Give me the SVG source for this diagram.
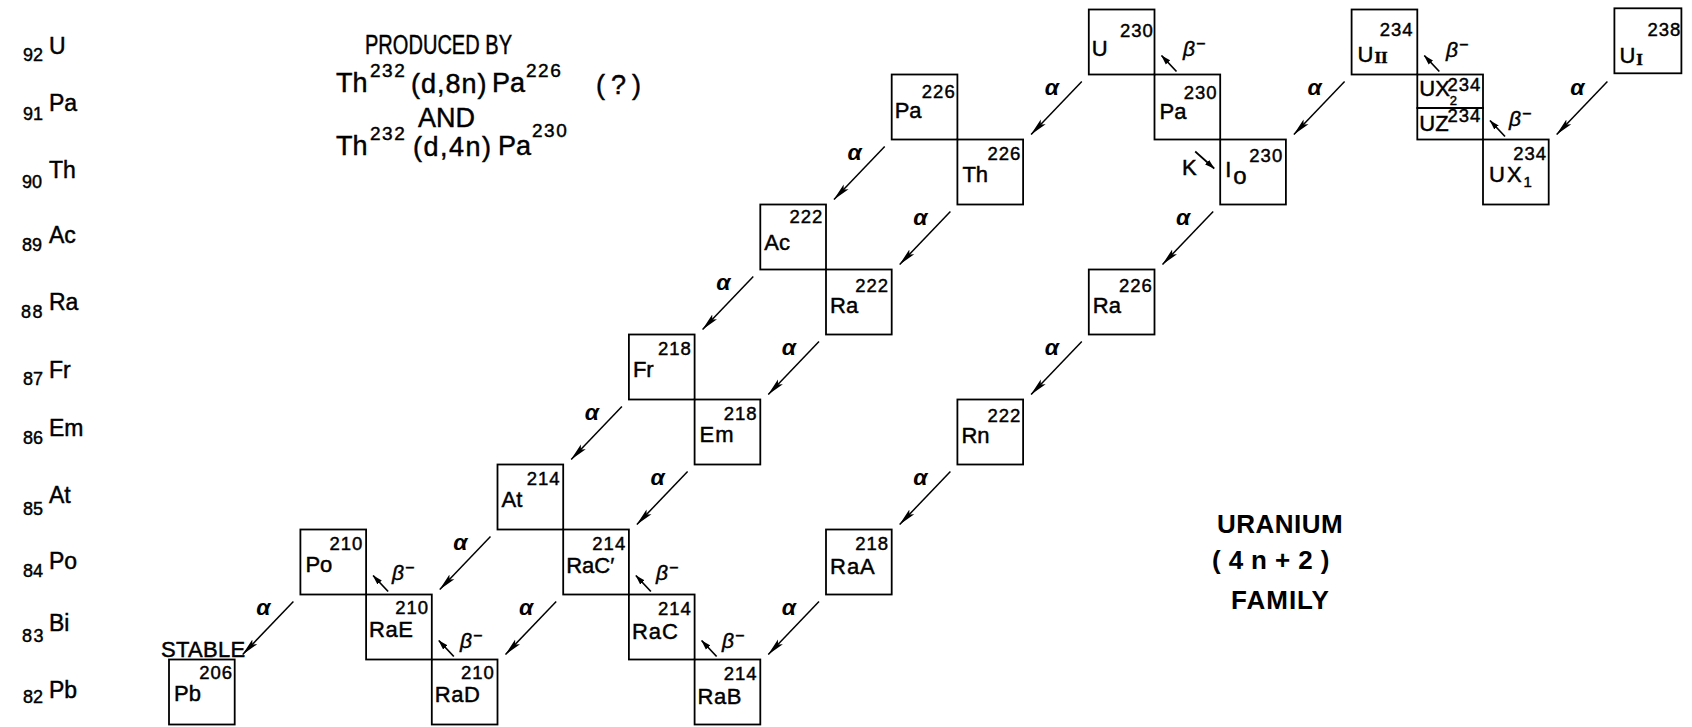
<svg xmlns="http://www.w3.org/2000/svg" width="1692" height="727" viewBox="0 0 1692 727">
<style>
text { font-family: "Liberation Sans", Arial, sans-serif; fill: #000; stroke: #000; stroke-width: 0.45; }
.box { fill: none; stroke: #000; stroke-width: 1.8; }
.sym { font-size: 22px; }
.mass { font-size: 18.5px; text-anchor: end; letter-spacing: 1px; }
.zl { font-size: 18px; }
.zs { font-size: 23px; }
.alpha { font-size: 23px; font-style: italic; font-weight: bold; text-anchor: middle; stroke-width: 0; }
.beta { font-size: 21px; font-style: italic; }
.la { stroke: #000; stroke-width: 1.5; fill: none; marker-end: url(#ah); }
.lb { stroke: #000; stroke-width: 1.7; fill: none; marker-end: url(#bh); }
.title { font-size: 27px; }
.tsup { font-size: 19px; letter-spacing: 1.5px; }
.fam { font-size: 26px; font-weight: bold; stroke-width: 0; }
.rom { font-family: "Liberation Serif", serif; font-weight: bold; }
</style>
<defs>
<marker id="ah" viewBox="0 0 18 8" refX="17.5" refY="4" markerWidth="18" markerHeight="8" markerUnits="userSpaceOnUse" orient="auto"><path d="M0,0.6 L18,4 L0,7.4 L3.5,4 Z" fill="#000"/></marker>
<marker id="bh" viewBox="0 0 10 7" refX="9.5" refY="3.5" markerWidth="10" markerHeight="7" markerUnits="userSpaceOnUse" orient="auto"><path d="M0,0.5 L10,3.5 L0,6.5 Z" fill="#000"/></marker>
</defs>
<rect width="1692" height="727" fill="#fff"/>

<g id="z-labels">
<text class="zl" x="23" y="61">92</text><text class="zs" x="49" y="54">U</text>
<text class="zl" x="23" y="120">91</text><text class="zs" x="49" y="111">Pa</text>
<text class="zl" x="22" y="188">90</text><text class="zs" x="49" y="178">Th</text>
<text class="zl" x="22" y="251">89</text><text class="zs" x="49" y="243">Ac</text>
<text class="zl" x="21" y="318" letter-spacing="1.5">88</text><text class="zs" x="49" y="310">Ra</text>
<text class="zl" x="23" y="385">87</text><text class="zs" x="49" y="378">Fr</text>
<text class="zl" x="23" y="444">86</text><text class="zs" x="49" y="436">Em</text>
<text class="zl" x="23" y="515">85</text><text class="zs" x="49" y="503">At</text>
<text class="zl" x="23" y="577">84</text><text class="zs" x="49" y="569">Po</text>
<text class="zl" x="22" y="642" letter-spacing="1.5">83</text><text class="zs" x="49" y="631">Bi</text>
<text class="zl" x="23" y="703">82</text><text class="zs" x="49" y="698">Pb</text>
</g>

<g id="note">
<text class="title" x="365" y="54" font-size="26" textLength="147" lengthAdjust="spacingAndGlyphs">PRODUCED BY</text>
<text class="title" x="336" y="92">Th</text>
<text class="tsup" x="370" y="77">232</text>
<text class="title" x="411" y="93" letter-spacing="1">(d,8n)</text>
<text class="title" x="492" y="92">Pa</text>
<text class="tsup" x="526" y="77">226</text>
<text class="title" x="596" y="94" letter-spacing="6">(?)</text>
<text class="title" x="418" y="127" font-size="21">AND</text>
<text class="title" x="336" y="155">Th</text>
<text class="tsup" x="370" y="140">232</text>
<text class="title" x="413" y="156" letter-spacing="1.5">(d,4n)</text>
<text class="title" x="498" y="155">Pa</text>
<text class="tsup" x="532" y="137">230</text>
</g>

<g id="family">
<text class="fam" x="1217" y="533" letter-spacing="0.5">URANIUM</text>
<text class="fam" x="1212" y="569" font-size="24" letter-spacing="8">(4n+2)</text>
<text class="fam" x="1231" y="609" letter-spacing="1">FAMILY</text>
</g>

<g id="pb206" transform="translate(169,659.5)"><rect class="box" width="65.7" height="65"/><text class="mass" x="64" y="19.5">206</text><text class="sym" x="5" y="41">Pb</text><text class="sym" x="-8" y="-3" font-size="20" letter-spacing="0.3">STABLE</text></g>
<g id="po210" transform="translate(300.4,529.5)"><rect class="box" width="65.7" height="65"/><text class="mass" x="63" y="20">210</text><text class="sym" x="5" y="42">Po</text></g>
<g id="rae210" transform="translate(366.1,594.5)"><rect class="box" width="65.7" height="65"/><text class="mass" x="63" y="19.5">210</text><text class="sym" x="3" y="42" letter-spacing="0.5">RaE</text></g>
<g id="rad210" transform="translate(431.8,659.5)"><rect class="box" width="65.7" height="65"/><text class="mass" x="63" y="19.5">210</text><text class="sym" x="3" y="42" letter-spacing="0.5">RaD</text></g>
<g id="at214" transform="translate(497.5,464.5)"><rect class="box" width="65.7" height="65"/><text class="mass" x="63" y="20">214</text><text class="sym" x="4" y="42">At</text></g>
<g id="racp214" transform="translate(563.2,529.5)"><rect class="box" width="65.7" height="65"/><text class="mass" x="63" y="20">214</text><text class="sym" x="3" y="43">RaC′</text></g>
<g id="rac214" transform="translate(628.9,594.5)"><rect class="box" width="65.7" height="65"/><text class="mass" x="63" y="20">214</text><text class="sym" x="3" y="44" letter-spacing="1">RaC</text></g>
<g id="fr218" transform="translate(628.9,334.5)"><rect class="box" width="65.7" height="65"/><text class="mass" x="63" y="20">218</text><text class="sym" x="4" y="42">Fr</text></g>
<g id="em218" transform="translate(694.6,399.5)"><rect class="box" width="65.7" height="65"/><text class="mass" x="63" y="20">218</text><text class="sym" x="5" y="42" letter-spacing="1">Em</text></g>
<g id="rab214" transform="translate(694.6,659.5)"><rect class="box" width="65.7" height="65"/><text class="mass" x="63" y="20">214</text><text class="sym" x="3" y="44" letter-spacing="0.5">RaB</text></g>
<g id="ac222" transform="translate(760.3,204.5)"><rect class="box" width="65.7" height="65"/><text class="mass" x="63" y="18">222</text><text class="sym" x="4" y="45">Ac</text></g>
<g id="ra222" transform="translate(826,269.5)"><rect class="box" width="65.7" height="65"/><text class="mass" x="63" y="22" letter-spacing="1.5">222</text><text class="sym" x="4" y="43">Ra</text></g>
<g id="raa218" transform="translate(826,529.5)"><rect class="box" width="65.7" height="65"/><text class="mass" x="63" y="20">218</text><text class="sym" x="4" y="44" letter-spacing="1">RaA</text></g>
<g id="pa226" transform="translate(891.7,74.5)"><rect class="box" width="65.7" height="65"/><text class="mass" x="64" y="23" letter-spacing="2">226</text><text class="sym" x="3" y="43">Pa</text></g>
<g id="th226" transform="translate(957.4,139.5)"><rect class="box" width="65.7" height="65"/><text class="mass" x="64" y="20" letter-spacing="2">226</text><text class="sym" x="5" y="42">Th</text></g>
<g id="rn222" transform="translate(957.4,399.5)"><rect class="box" width="65.7" height="65"/><text class="mass" x="64" y="22" letter-spacing="1.5">222</text><text class="sym" x="4" y="43">Rn</text></g>
<g id="ra226" transform="translate(1088.8,269.5)"><rect class="box" width="65.7" height="65"/><text class="mass" x="64" y="22" letter-spacing="1.5">226</text><text class="sym" x="4" y="43">Ra</text></g>
<g id="u230" transform="translate(1088.8,9.5)"><rect class="box" width="65.7" height="65"/><text class="mass" x="65" y="27" letter-spacing="3">230</text><text class="sym" x="3" y="46">U</text></g>
<g id="pa230" transform="translate(1154.5,74.5)"><rect class="box" width="65.7" height="65"/><text class="mass" x="63" y="24" letter-spacing="1">230</text><text class="sym" x="5" y="44">Pa</text></g>
<g id="io230" transform="translate(1220.2,139.5)"><rect class="box" width="65.7" height="65"/><text class="mass" x="63" y="22" letter-spacing="0.5">230</text><text class="sym" x="5" y="37">I<tspan dx="2" dy="7" font-size="24">o</tspan></text></g>
<g id="u234" transform="translate(1351.6,9.5)"><rect class="box" width="65.7" height="65"/><text class="mass" x="62" y="26" letter-spacing="1.5">234</text><text class="sym" x="6" y="52" font-size="24">U<tspan class="rom" font-size="17" dx="1" dy="1">II</tspan></text></g>
<g id="pa234" transform="translate(1417.3,74.5)"><rect class="box" width="65.7" height="33.5"/><rect class="box" y="33.5" width="65.7" height="31.5"/><text class="mass" x="64" y="16" font-size="15">234</text><text class="sym" x="2" y="21" font-size="18">UX<tspan font-size="13" dy="9">2</tspan></text><text class="mass" x="64" y="47" font-size="15">234</text><text class="sym" x="2" y="56" font-size="18">UZ</text></g>
<g id="th234" transform="translate(1483,139.5)"><rect class="box" width="65.7" height="65"/><text class="mass" x="64" y="20" letter-spacing="1.5">234</text><text class="sym" x="6" y="42" letter-spacing="2">UX<tspan font-size="15" dy="5">1</tspan></text></g>
<g id="u238" transform="translate(1614.4,8.3)"><rect class="box" width="67" height="65"/><text class="mass" x="67" y="28" letter-spacing="2">238</text><text class="sym" x="5" y="55" font-size="24">U<tspan class="rom" font-size="17" dx="1" dy="2">I</tspan></text></g>

<g id="connectors">
<line class="la" x1="1607.4" y1="81.5" x2="1556.7" y2="134.5"/><text class="alpha" x="1577.4" y="94.5">α</text>
<line class="la" x1="1344.6" y1="81.5" x2="1293.9" y2="134.5"/><text class="alpha" x="1314.6" y="94.5">α</text>
<line class="la" x1="1081.8" y1="81.5" x2="1031.1" y2="134.5"/><text class="alpha" x="1051.8" y="94.5">α</text>
<line class="la" x1="884.7" y1="146.5" x2="834" y2="199.5"/><text class="alpha" x="854.7" y="159.5">α</text>
<line class="la" x1="950.4" y1="211.5" x2="899.7" y2="264.5"/><text class="alpha" x="920.4" y="224.5">α</text>
<line class="la" x1="1213.2" y1="211.5" x2="1162.5" y2="264.5"/><text class="alpha" x="1183.2" y="224.5">α</text>
<line class="la" x1="753.3" y1="276.5" x2="702.6" y2="329.5"/><text class="alpha" x="723.3" y="289.5">α</text>
<line class="la" x1="819" y1="341.5" x2="768.3" y2="394.5"/><text class="alpha" x="789" y="354.5">α</text>
<line class="la" x1="1081.8" y1="341.5" x2="1031.1" y2="394.5"/><text class="alpha" x="1051.8" y="354.5">α</text>
<line class="la" x1="621.9" y1="406.5" x2="571.2" y2="459.5"/><text class="alpha" x="591.9" y="419.5">α</text>
<line class="la" x1="687.6" y1="471.5" x2="636.9" y2="524.5"/><text class="alpha" x="657.6" y="484.5">α</text>
<line class="la" x1="950.4" y1="471.5" x2="899.7" y2="524.5"/><text class="alpha" x="920.4" y="484.5">α</text>
<line class="la" x1="490.5" y1="536.5" x2="439.8" y2="589.5"/><text class="alpha" x="460.5" y="549.5">α</text>
<line class="la" x1="293.4" y1="601.5" x2="242.7" y2="654.5"/><text class="alpha" x="263.4" y="614.5">α</text>
<line class="la" x1="556.2" y1="601.5" x2="505.5" y2="654.5"/><text class="alpha" x="526.2" y="614.5">α</text>
<line class="la" x1="819" y1="601.5" x2="768.3" y2="654.5"/><text class="alpha" x="789" y="614.5">α</text>

<line class="lb" x1="1176.5" y1="71.5" x2="1161.5" y2="55.5"/><text class="beta" x="1183" y="56">β<tspan font-size="16" dx="1" dy="-7">−</tspan></text>
<line class="lb" x1="1439.3" y1="71.5" x2="1424.3" y2="55.5"/><text class="beta" x="1446" y="57">β<tspan font-size="16" dx="1" dy="-7">−</tspan></text>
<line class="lb" x1="1505" y1="136.5" x2="1490" y2="120.5"/><text class="beta" x="1509" y="126">β<tspan font-size="16" dx="1" dy="-7">−</tspan></text>
<line class="lb" x1="388.1" y1="591.5" x2="373.1" y2="575.5"/><text class="beta" x="392" y="580">β<tspan font-size="16" dx="1" dy="-7">−</tspan></text>
<line class="lb" x1="453.8" y1="656.5" x2="438.8" y2="640.5"/><text class="beta" x="460" y="648">β<tspan font-size="16" dx="1" dy="-7">−</tspan></text>
<line class="lb" x1="650.9" y1="591.5" x2="635.9" y2="575.5"/><text class="beta" x="656" y="580">β<tspan font-size="16" dx="1" dy="-7">−</tspan></text>
<line class="lb" x1="716.6" y1="656.5" x2="701.6" y2="640.5"/><text class="beta" x="722" y="648">β<tspan font-size="16" dx="1" dy="-7">−</tspan></text>

<line class="lb" x1="1195.2" y1="151.5" x2="1214.2" y2="168.5"/><text class="sym" x="1182" y="174.5" font-size="19">K</text>
</g>
</svg>
